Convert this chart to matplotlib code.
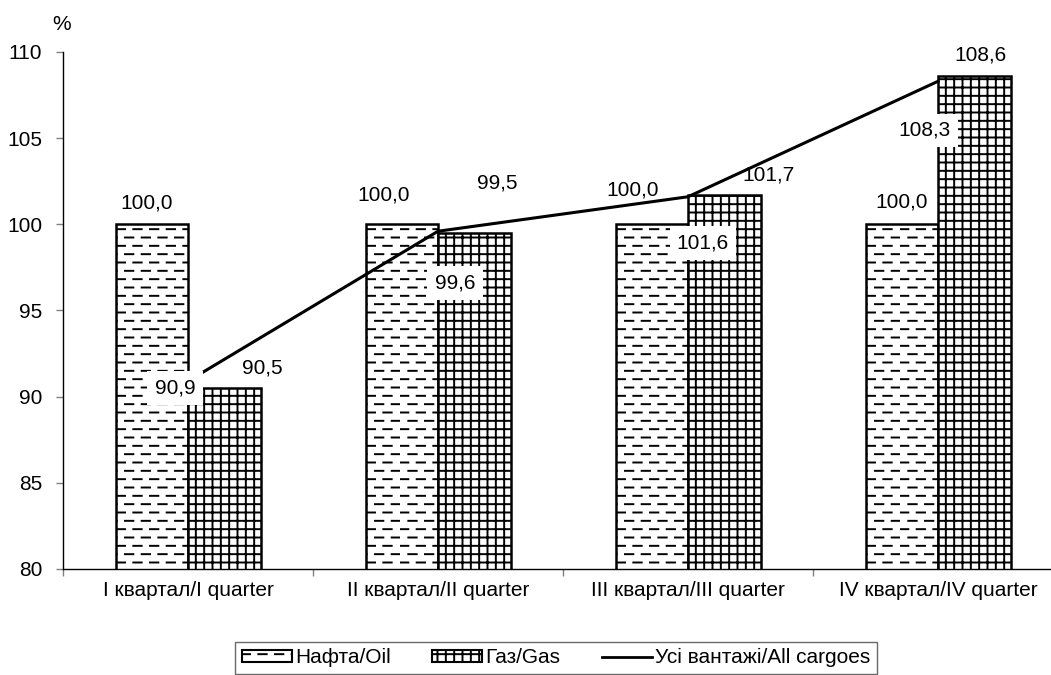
import warnings
import numpy as np
import matplotlib
matplotlib.use("Agg")
import matplotlib.pyplot as plt
from matplotlib import hatch as mhatch
from matplotlib.path import Path
from matplotlib.patches import Patch
from matplotlib.lines import Line2D

warnings.filterwarnings("ignore")

categories = ["I квартал/I quarter", "II квартал/II quarter",
              "III квартал/III quarter", "IV квартал/IV quarter"]
oil = [100.0, 100.0, 100.0, 100.0]
gas = [90.5, 99.5, 101.7, 108.6]
all_cargoes = [90.9, 99.6, 101.6, 108.3]

# label offsets in pixels (hand placed in the original)
oil_off = [(-5, 21), (-18, 29), (-19, 34), (0, 22)]
gas_off = [(38, 20), (23, 50), (44, 20), (6, 21)]
line_off = [(-13, -7), (17, -52), (15, -46), (-13, -49)]


# dashed horizontal hatch, like the excel "dashed horizontal" pattern
class DashHatch(mhatch.HatchPatternBase):
    def __init__(self, hatch, density):
        self.rows = int(hatch.count("d") * density)
        self.ndash = 6
        self.num_vertices = self.rows * self.ndash * 2

    def set_vertices_and_codes(self, vertices, codes):
        k = 0
        for r in range(self.rows):
            y = (r + 0.5) / self.rows
            off = 0.5 if r % 2 else 0.0
            for d in range(self.ndash):
                x0 = (d + off) / self.ndash
                vertices[k] = (x0, y)
                vertices[k + 1] = (x0 + 0.5 / self.ndash, y)
                codes[k] = Path.MOVETO
                codes[k + 1] = Path.LINETO
                k += 2


mhatch._hatch_types.append(DashHatch)

plt.rcParams["font.family"] = ["Liberation Sans", "DejaVu Sans"]
plt.rcParams["font.size"] = 15
plt.rcParams["hatch.linewidth"] = 1.4


def fmt(v):
    return f"{v:.1f}".replace(".", ",")


fig = plt.figure(figsize=(10.51, 6.75), dpi=100)
ax = fig.add_axes([63 / 1051, 1 - 569 / 675, 1000 / 1051, 517 / 675])

x = np.arange(len(categories))
w = 0.29

b1 = ax.bar(x - w / 2, oil, w, bottom=0, color="white", edgecolor="black",
            linewidth=1.8, hatch="dd", zorder=2)
b2 = ax.bar(x + w / 2, gas, w, color="white", edgecolor="black",
            linewidth=1.8, hatch="++", zorder=2)
ax.plot(x, all_cargoes, color="black", linewidth=2.2, zorder=3)

for i in range(len(x)):
    ax.annotate(fmt(oil[i]), (x[i] - w / 2, oil[i]), xytext=oil_off[i],
                textcoords="offset pixels", ha="center", va="center", zorder=4)
    ax.annotate(fmt(gas[i]), (x[i] + w / 2, gas[i]), xytext=gas_off[i],
                textcoords="offset pixels", ha="center", va="center", zorder=4)
    ax.annotate(fmt(all_cargoes[i]), (x[i], all_cargoes[i]), xytext=line_off[i],
                textcoords="offset pixels", ha="center", va="center", zorder=5,
                bbox=dict(boxstyle="square,pad=0.35", fc="white", ec="none"))

ax.set_ylim(80, 110)
ax.set_yticks([80, 85, 90, 95, 100, 105, 110])
ax.set_xlim(-0.5, 3.5)
ax.set_xticks(x)
ax.set_xticklabels(categories)
ax.set_xticks(np.arange(-0.5, 4, 1), minor=True)
ax.tick_params(axis="x", which="major", length=0, pad=9)
ax.tick_params(axis="x", which="minor", length=5, color="gray", width=1)
ax.tick_params(axis="y", length=5, color="gray", width=1, pad=10)

for s in ["top", "right"]:
    ax.spines[s].set_visible(False)
ax.spines["left"].set_linewidth(1)
ax.spines["bottom"].set_linewidth(1)

fig.text(62 / 1051, 1 - 25 / 675, "%", ha="center", va="center")

handles = [
    Patch(facecolor="white", edgecolor="black", hatch="dd", linewidth=1.5),
    Patch(facecolor="white", edgecolor="black", hatch="++", linewidth=1.5),
    Line2D([], [], color="black", linewidth=2),
]
leg = fig.legend(handles, ["Нафта/Oil", "Газ/Gas", "Усі вантажі/All cargoes"],
                 loc="upper center", bbox_to_anchor=(556 / 1051, 1 - 642 / 675),
                 borderaxespad=0, ncol=3, frameon=True, fancybox=False,
                 edgecolor="#444444", handlelength=2.4, handleheight=0.5,
                 handletextpad=0.15, columnspacing=2.0, borderpad=0.3)
leg.get_frame().set_linewidth(1)

fig.savefig("out.png", dpi=100)
